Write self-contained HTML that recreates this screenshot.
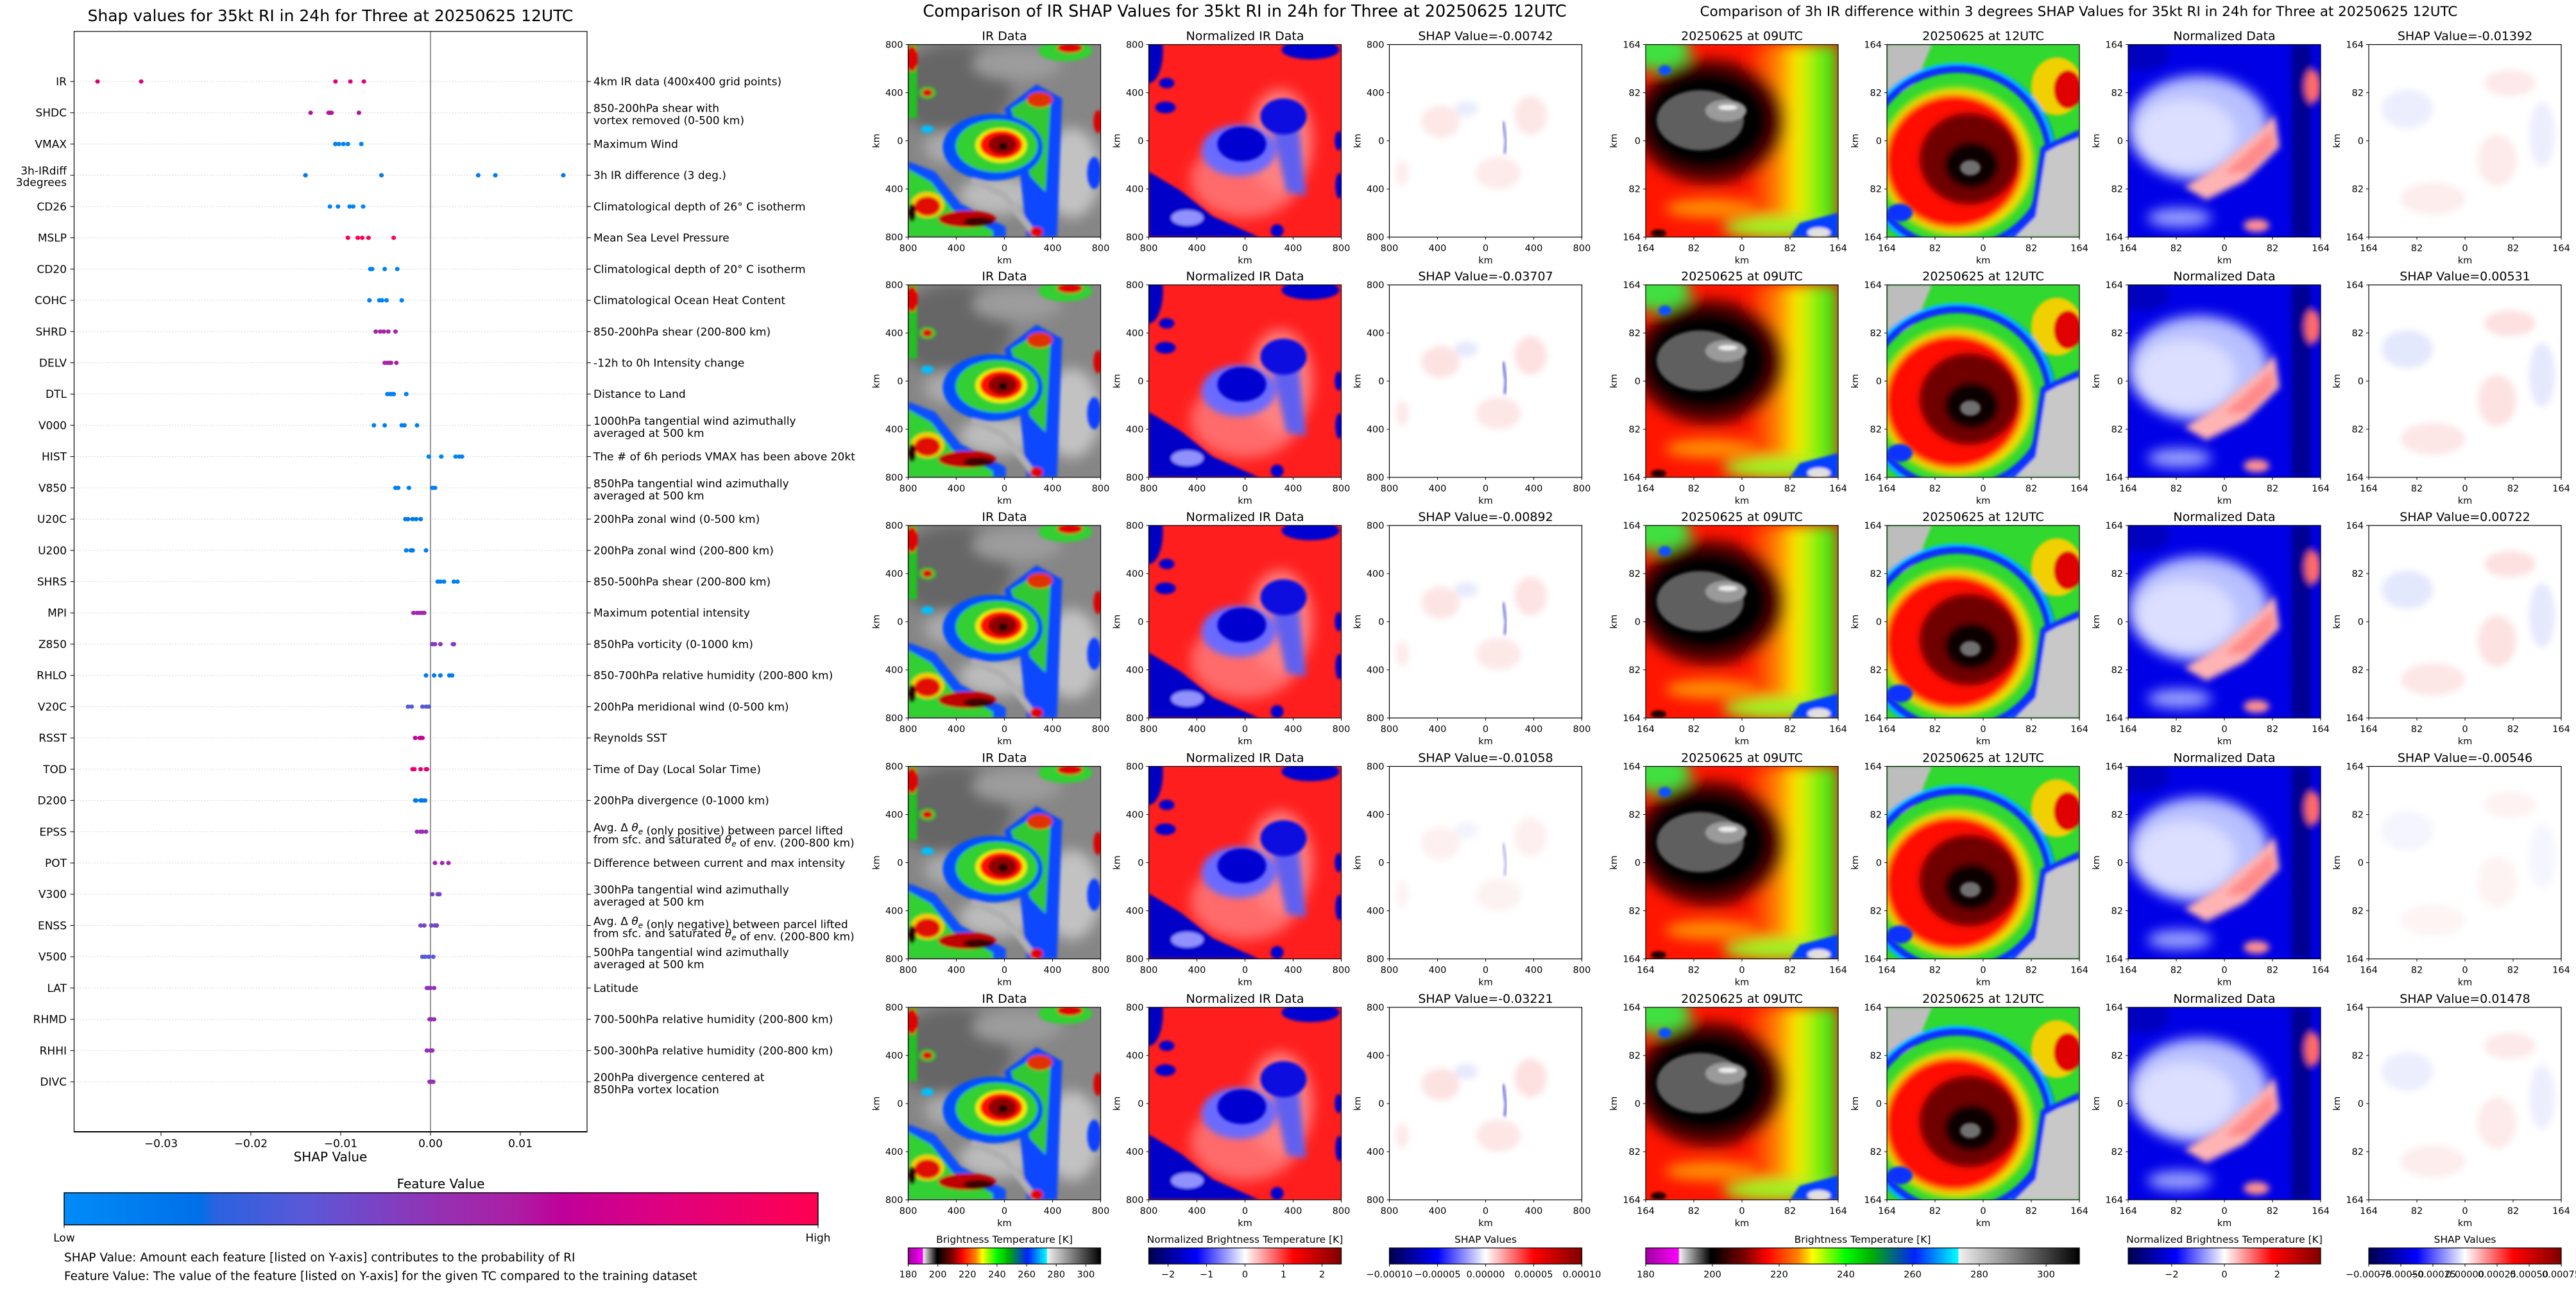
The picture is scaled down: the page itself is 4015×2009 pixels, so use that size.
<!DOCTYPE html>
<html><head><meta charset="utf-8"><title>SHAP values RI</title>
<style>
html,body{margin:0;padding:0;background:#fff;}
svg{display:block;font-family:"DejaVu Sans","Liberation Sans",sans-serif;}
</style></head>
<body>
<svg id="root" xmlns="http://www.w3.org/2000/svg" width="4015" height="2009" viewBox="0 0 4015 2009">
<defs>
<filter id="b2" x="-20%" y="-20%" width="140%" height="140%"><feGaussianBlur stdDeviation="2"/></filter>
<filter id="b5" x="-30%" y="-30%" width="160%" height="160%"><feGaussianBlur stdDeviation="5"/></filter>
<filter id="b10" x="-40%" y="-40%" width="180%" height="180%"><feGaussianBlur stdDeviation="10"/></filter>
<linearGradient id="g-fv" x1="0" x2="1" y1="0" y2="0">
<stop offset="0" stop-color="#008cf8"/><stop offset="0.18" stop-color="#0070e8"/><stop offset="0.2" stop-color="#2a62e0"/><stop offset="0.32" stop-color="#5a58d8"/><stop offset="0.5" stop-color="#9630b2"/><stop offset="0.6" stop-color="#ac1ea4"/><stop offset="0.66" stop-color="#c0009a"/><stop offset="0.8" stop-color="#e0007e"/><stop offset="1" stop-color="#ff0050"/>
</linearGradient>
<linearGradient id="g-ir" x1="0" x2="1" y1="0" y2="0">
<stop offset="0" stop-color="#a000a0"/><stop offset="0.076" stop-color="#ff00ff"/><stop offset="0.077" stop-color="#f4f4f4"/><stop offset="0.15" stop-color="#000"/><stop offset="0.154" stop-color="#000"/><stop offset="0.23" stop-color="#800000"/><stop offset="0.28" stop-color="#ff0000"/><stop offset="0.35" stop-color="#ff8000"/><stop offset="0.385" stop-color="#ffff00"/><stop offset="0.46" stop-color="#00ff00"/><stop offset="0.52" stop-color="#00b000"/><stop offset="0.62" stop-color="#0020ff"/><stop offset="0.72" stop-color="#00ffff"/><stop offset="0.722" stop-color="#f0f0f0"/><stop offset="1" stop-color="#000"/>
</linearGradient>
<linearGradient id="g-seis" x1="0" x2="1" y1="0" y2="0">
<stop offset="0" stop-color="#00004c"/><stop offset="0.25" stop-color="#0000ff"/><stop offset="0.5" stop-color="#ffffff"/><stop offset="0.75" stop-color="#ff0000"/><stop offset="1" stop-color="#800000"/>
</linearGradient>
<linearGradient id="g-09r" x1="0" x2="1" y1="0" y2="0">
<stop offset="0" stop-color="#ff1500"/><stop offset="0.35" stop-color="#ff8a00"/><stop offset="0.55" stop-color="#f8f000"/><stop offset="0.8" stop-color="#70ee10"/><stop offset="1" stop-color="#30d020"/>
</linearGradient>

<symbol id="art-ir" viewBox="0 0 300 300">
<rect width="300" height="300" fill="#868686"/>
<g filter="url(#b10)">
<ellipse cx="70" cy="70" rx="90" ry="70" fill="#666"/>
<ellipse cx="170" cy="30" rx="70" ry="25" fill="#9c9c9c"/>
<ellipse cx="255" cy="200" rx="45" ry="70" fill="#c2c2c2"/>
<ellipse cx="140" cy="235" rx="60" ry="30" fill="#bcbcbc"/>
<ellipse cx="60" cy="160" rx="35" ry="25" fill="#aaa"/>
</g>
<g filter="url(#b2)">
<path d="M150 100 L200 62 L240 84 L232 300 L185 300 L175 205 Z" fill="#1046ff"/>
<path d="M160 100 L200 76 L222 92 L214 230 L190 205 L176 150 Z" fill="#30c830"/>
<path d="M100 210 L150 235 L200 300" stroke="#b0b0b0" stroke-width="10" fill="none"/>
<path d="M60 150 L110 180" stroke="#b0b0b0" stroke-width="8" fill="none"/>
<ellipse cx="205" cy="86" rx="20" ry="12" fill="#e03000"/>
<ellipse cx="132" cy="160" rx="78" ry="52" fill="#0050ff"/>
<ellipse cx="138" cy="158" rx="64" ry="41" fill="#30d030"/>
<ellipse cx="145" cy="157" rx="40" ry="27" fill="#f0f000"/>
<ellipse cx="145" cy="156" rx="33" ry="22" fill="#ff1000"/>
<ellipse cx="147" cy="156" rx="22" ry="15" fill="#900000"/>
<ellipse cx="148" cy="158" rx="7" ry="6" fill="#100000"/>
<path d="M0 182 L42 198 L82 248 L152 284 L152 300 L0 300 Z" fill="#1050ff"/>
<path d="M0 194 L36 214 L70 258 L132 290 L132 300 L0 300 Z" fill="#30d030"/>
<ellipse cx="30" cy="250" rx="26" ry="20" fill="#f0d000"/>
<ellipse cx="30" cy="252" rx="20" ry="15" fill="#e01000"/>
<ellipse cx="92" cy="272" rx="45" ry="13" fill="#c00000"/>
<ellipse cx="110" cy="276" rx="24" ry="7" fill="#400000"/>
<ellipse cx="6" cy="262" rx="6" ry="14" fill="#200000"/>
<ellipse cx="245" cy="10" rx="42" ry="16" fill="#30d030"/>
<ellipse cx="252" cy="5" rx="20" ry="8" fill="#e00000"/>
<rect x="0" y="0" width="14" height="115" fill="#20c020"/>
<ellipse cx="6" cy="22" rx="9" ry="20" fill="#e00000"/>
<ellipse cx="30" cy="75" rx="14" ry="10" fill="#30c030"/><ellipse cx="30" cy="75" rx="8" ry="6" fill="#e00000"/>
<ellipse cx="30" cy="132" rx="10" ry="6" fill="#00c0ff"/>
<ellipse cx="296" cy="120" rx="7" ry="18" fill="#e00000"/>
<ellipse cx="290" cy="200" rx="11" ry="25" fill="#1040ff"/>
<ellipse cx="200" cy="292" rx="10" ry="8" fill="#e00000"/>
</g>
</symbol>

<symbol id="art-nir" viewBox="0 0 300 300">
<rect width="300" height="300" fill="#ff1e1e"/>
<g filter="url(#b10)">
<ellipse cx="150" cy="210" rx="85" ry="60" fill="#ff6a6a"/>
<ellipse cx="205" cy="150" rx="50" ry="80" fill="#ff8080"/>
</g>
<g filter="url(#b5)">
<ellipse cx="140" cy="165" rx="58" ry="40" fill="#6a6aff"/>
<path d="M185 100 L230 95 L245 235 L215 230 Z" fill="#6060f0"/>
</g>
<g filter="url(#b2)">
<ellipse cx="210" cy="112" rx="36" ry="28" fill="#1010e0"/>
<ellipse cx="145" cy="155" rx="38" ry="27" fill="#0000d0"/>
<path d="M0 198 L50 228 L100 268 L172 300 L0 300 Z" fill="#0000c8"/>
<ellipse cx="60" cy="270" rx="25" ry="12" fill="#9090ff"/>
<ellipse cx="252" cy="8" rx="45" ry="15" fill="#0000d0"/>
<ellipse cx="0" cy="10" rx="22" ry="50" fill="#0000c0"/>
<ellipse cx="28" cy="60" rx="12" ry="8" fill="#0000d0"/>
<ellipse cx="26" cy="98" rx="16" ry="9" fill="#0000d0"/>
<ellipse cx="296" cy="150" rx="6" ry="15" fill="#0000d0"/>
<ellipse cx="297" cy="220" rx="6" ry="20" fill="#0000d0"/>
<ellipse cx="200" cy="290" rx="10" ry="10" fill="#0000d0"/>
</g>
</symbol>

<symbol id="art-shapm" viewBox="0 0 300 300">
<rect width="300" height="300" fill="#fff"/>
<g filter="url(#b5)">
<ellipse cx="80" cy="120" rx="30" ry="25" fill="#fde2e2"/>
<ellipse cx="220" cy="110" rx="25" ry="30" fill="#fde0e0"/>
<ellipse cx="170" cy="200" rx="35" ry="25" fill="#fde6e6"/>
<ellipse cx="120" cy="100" rx="18" ry="12" fill="#e6e8fd"/>
<ellipse cx="20" cy="200" rx="10" ry="20" fill="#fde8e8"/>
</g>
<path d="M177 120 L182 150 L180 170" stroke="#6060e0" stroke-width="4" fill="none" filter="url(#b2)"/>
</symbol>

<symbol id="art-09" viewBox="0 0 300 300">
<rect width="300" height="300" fill="#ff1500"/>
<g filter="url(#b10)">
<rect x="160" y="0" width="140" height="300" fill="url(#g-09r)"/>
<ellipse cx="15" cy="10" rx="55" ry="30" fill="#40e040"/>
<ellipse cx="210" cy="285" rx="90" ry="18" fill="#a0f020"/>
<ellipse cx="100" cy="255" rx="70" ry="15" fill="#ff9000"/>
<ellipse cx="100" cy="120" rx="118" ry="98" fill="#600000"/>
<ellipse cx="95" cy="118" rx="100" ry="80" fill="#000"/>
</g>
<g filter="url(#b2)">
<ellipse cx="85" cy="118" rx="68" ry="47" fill="#5e5e5e"/>
<ellipse cx="125" cy="103" rx="32" ry="17" fill="#9a9a9a"/>
<ellipse cx="128" cy="98" rx="15" ry="4" fill="#eeeeee"/>
<path d="M225 300 L240 278 L300 262 L300 300 Z" fill="#0040ff"/>
<ellipse cx="270" cy="293" rx="18" ry="8" fill="#e0e0e0"/>
<ellipse cx="30" cy="40" rx="10" ry="8" fill="#1050ff"/>
<ellipse cx="20" cy="294" rx="12" ry="6" fill="#200000"/>
</g>
</symbol>

<symbol id="art-12" viewBox="0 0 300 300">
<rect width="300" height="300" fill="#30d830"/>
<g filter="url(#b2)">
<path d="M0 0 L70 0 L45 60 L0 90 Z" fill="#bdbdbd"/>
<ellipse cx="265" cy="65" rx="40" ry="45" fill="#f0d000"/>
<ellipse cx="282" cy="70" rx="22" ry="30" fill="#e00000"/>
<ellipse cx="110" cy="178" rx="146" ry="142" fill="none" stroke="#1030ff" stroke-width="16"/>
<ellipse cx="110" cy="178" rx="150" ry="148" fill="none" stroke="#00c8ff" stroke-width="4"/>
</g>
<g filter="url(#b5)">
<ellipse cx="108" cy="182" rx="120" ry="115" fill="#f0e000"/>
<ellipse cx="105" cy="182" rx="108" ry="104" fill="#ff1000"/>
<ellipse cx="128" cy="178" rx="78" ry="72" fill="#700000"/>
<ellipse cx="132" cy="188" rx="42" ry="36" fill="#100000"/>
</g>
<g filter="url(#b2)">
<ellipse cx="130" cy="192" rx="16" ry="12" fill="#707070"/>
<path d="M240 160 L262 150 L300 132 L300 300 L190 300 L225 262 Z" fill="#1030ff"/>
<path d="M248 168 L266 158 L300 145 L300 300 L200 300 L232 268 Z" fill="#c8c8c8"/>
<ellipse cx="20" cy="262" rx="20" ry="14" fill="#1030ff"/>
</g>
</symbol>

<symbol id="art-norm" viewBox="0 0 300 300">
<rect width="300" height="300" fill="#0000e6"/>
<g filter="url(#b10)">
<ellipse cx="110" cy="130" rx="110" ry="82" fill="#b8c0ff"/>
<ellipse cx="90" cy="140" rx="78" ry="55" fill="#dcdfff"/>
<ellipse cx="80" cy="270" rx="50" ry="15" fill="#9aa0ff"/>
</g>
<g filter="url(#b5)">
<path d="M88 222 L140 190 L200 140 L228 110 L236 160 L182 212 L122 242 Z" fill="#ffb4b4"/>
<path d="M150 200 L205 150 L225 130 L228 160 L185 200 Z" fill="#ff8a8a"/>
<rect x="255" y="0" width="30" height="300" fill="#000090"/>
<ellipse cx="288" cy="65" rx="12" ry="26" fill="#ff6a6a"/>
<ellipse cx="200" cy="282" rx="20" ry="10" fill="#ff9090"/>
<ellipse cx="20" cy="15" rx="45" ry="25" fill="#0000c0"/>
</g>
</symbol>

<symbol id="art-shapr" viewBox="0 0 300 300">
<rect width="300" height="300" fill="#fff"/>
<g filter="url(#b5)">
<ellipse cx="60" cy="100" rx="40" ry="30" fill="#e4e8fd"/>
<ellipse cx="220" cy="60" rx="40" ry="20" fill="#fde0e0"/>
<ellipse cx="200" cy="180" rx="30" ry="40" fill="#fde2e2"/>
<ellipse cx="100" cy="240" rx="50" ry="25" fill="#fde6e6"/>
<ellipse cx="270" cy="140" rx="20" ry="50" fill="#e6e8fd"/>
</g>
</symbol>
</defs>
<g id="layer"></g>
</svg>

<script>
// ---------- data ----------
const features = ["IR","SHDC","VMAX","3h-IRdiff\n3degrees","CD26","MSLP","CD20","COHC","SHRD","DELV","DTL","V000","HIST","V850","U20C","U200","SHRS","MPI","Z850","RHLO","V20C","RSST","TOD","D200","EPSS","POT","V300","ENSS","V500","LAT","RHMD","RHHI","DIVC"];
const descriptions = ["4km IR data (400x400 grid points)","850-200hPa shear with\nvortex removed (0-500 km)","Maximum Wind","3h IR difference (3 deg.)","Climatological depth of 26° C isotherm","Mean Sea Level Pressure","Climatological depth of 20° C isotherm","Climatological Ocean Heat Content","850-200hPa shear (200-800 km)","-12h to 0h Intensity change","Distance to Land","1000hPa tangential wind azimuthally\naveraged at 500 km","The # of 6h periods VMAX has been above 20kt","850hPa tangential wind azimuthally\naveraged at 500 km","200hPa zonal wind (0-500 km)","200hPa zonal wind (200-800 km)","850-500hPa shear (200-800 km)","Maximum potential intensity","850hPa vorticity (0-1000 km)","850-700hPa relative humidity (200-800 km)","200hPa meridional wind (0-500 km)","Reynolds SST","Time of Day (Local Solar Time)","200hPa divergence (0-1000 km)","Avg. Δ θe (only positive) between parcel lifted\nfrom sfc. and saturated θe of env. (200-800 km)","Difference between current and max intensity","300hPa tangential wind azimuthally\naveraged at 500 km","Avg. Δ θe (only negative) between parcel lifted\nfrom sfc. and saturated θe of env. (200-800 km)","500hPa tangential wind azimuthally\naveraged at 500 km","Latitude","700-500hPa relative humidity (200-800 km)","500-300hPa relative humidity (200-800 km)","200hPa divergence centered at\n850hPa vortex location"];
const featureValues = [0.8,0.62,0.05,0.1,0.05,0.98,0.05,0.05,0.56,0.58,0.08,0.08,0.05,0.08,0.12,0.1,0.08,0.55,0.45,0.1,0.3,0.68,0.86,0.12,0.5,0.56,0.4,0.4,0.3,0.48,0.5,0.5,0.5];
const irShap = [-0.00742,-0.03707,-0.00892,-0.01058,-0.03221];
const diffShap = [-0.01392,0.00531,0.00722,-0.00546,0.01478];
const shapValues = [
 irShap,
 [-0.01335,-0.01134,-0.01116,-0.01102,-0.00797],
 [-0.0106,-0.0102,-0.0097,-0.0092,-0.0077],
 diffShap,
 [-0.0112,-0.0103,-0.0090,-0.0086,-0.0075],
 [-0.0092,-0.0081,-0.0076,-0.0069,-0.0041],
 [-0.0067,-0.0066,-0.0065,-0.0051,-0.0037],
 [-0.0068,-0.0057,-0.0054,-0.0049,-0.0032],
 [-0.0061,-0.0056,-0.0052,-0.0047,-0.0039],
 [-0.0051,-0.0048,-0.0046,-0.0044,-0.0038],
 [-0.0048,-0.0045,-0.0043,-0.0041,-0.0027],
 [-0.0063,-0.0051,-0.0032,-0.0029,-0.0015],
 [-0.0002,0.0012,0.0028,0.0032,0.0035],
 [-0.0039,-0.0036,-0.0024,0.0002,0.0005],
 [-0.0028,-0.0025,-0.0020,-0.0016,-0.0011],
 [-0.0027,-0.0022,-0.0020,-0.0020,-0.0005],
 [0.0008,0.0011,0.0015,0.0026,0.0030],
 [-0.0019,-0.0015,-0.0012,-0.0009,-0.0007],
 [0.0002,0.0005,0.0011,0.0025,0.0026],
 [-0.0005,0.0004,0.0011,0.0021,0.0024],
 [-0.0025,-0.0021,-0.0009,-0.0005,-0.0002],
 [-0.0017,-0.0012,-0.0011,-0.0010,-0.0009],
 [-0.0020,-0.0018,-0.0011,-0.0005,-0.0004],
 [-0.0017,-0.0016,-0.0011,-0.0009,-0.0006],
 [-0.0015,-0.0011,-0.0010,-0.0009,-0.0005],
 [0.0005,0.0013,0.0020],
 [0.0002,0.0008,0.0010],
 [-0.0011,-0.0007,0.0001,0.0005,0.0007],
 [-0.0009,-0.0006,-0.0002,0.0003],
 [-0.0004,-0.0002,0.0000,0.0004],
 [-0.0001,0.0001,0.0004],
 [-0.0004,0.0000,0.0002],
 [-0.0001,0.0001,0.0003]
];
const xTicks = [-0.03,-0.02,-0.01,0.00,0.01];
const xTickLabels = ["−0.03","−0.02","−0.01","0.00","0.01"];
const midTitles = ["IR Data","Normalized IR Data"];
const rightTitles = ["20250625 at 09UTC","20250625 at 12UTC","Normalized Data"];
const midTickLabels = ["800","400","0","400","800"];
const rightTickLabels = ["164","82","0","82","164"];
const cbIrTicks = [180,200,220,240,260,280,300];
const cbNormMidTicks = [-2,-1,0,1,2];
const cbShapMidTicks = ["−0.00010","−0.00005","0.00000","0.00005","0.00010"];
const cbNormRightTicks = [-2,0,2];
const cbShapRightTicks = ["−0.00075","−0.00050","−0.00025","0.00000","0.00025","0.00050","0.00075"];

// ---------- helpers ----------
const NS = "http://www.w3.org/2000/svg";
const layer = document.getElementById("layer");
function mk(tag, attrs, parent) {
  const e = document.createElementNS(NS, tag);
  for (const k in attrs) e.setAttribute(k, attrs[k]);
  (parent || layer).appendChild(e);
  return e;
}
function tx(x, y, s, size, anchor, parent) {
  const e = mk("text", {x: x, y: y, "font-size": size, "text-anchor": anchor || "start", fill: "#000"}, parent);
  e.textContent = s;
  return e;
}
const fvStops = [[0,[0,140,248]],[0.18,[0,112,232]],[0.2,[42,98,224]],[0.32,[90,88,216]],[0.5,[150,48,178]],[0.6,[172,30,164]],[0.66,[192,0,154]],[0.8,[224,0,126]],[1,[255,0,80]]];
function fvColor(v) {
  for (let i = 1; i < fvStops.length; i++) {
    if (v <= fvStops[i][0]) {
      const a = fvStops[i-1], b = fvStops[i], t = (v - a[0]) / (b[0] - a[0]);
      const c = a[1].map((q, j) => Math.round(q + (b[1][j] - q) * t));
      return "rgb(" + c.join(",") + ")";
    }
  }
  return "rgb(255,0,80)";
}

// ---------- left beeswarm ----------
const AX = {l: 115.5, r: 915, t: 49, b: 1764};
const X0 = 671, XS = 14000;
function xScale(v) { return X0 + v * XS; }
function yRow(i) { return 127 + i * 48.72; }

const ltitle = tx(515, 33, "Shap values for 35kt RI in 24h for Three at 20250625 12UTC", 25, "middle");



features.forEach((f, i) => {
  const y = yRow(i);
  const g = mk("line", {x1: AX.l, x2: AX.r, y1: y, y2: y, stroke: "#c8c8c8", "stroke-width": 1, "stroke-dasharray": "1.5,3"});
  
  
  const tl = mk("line", {x1: AX.l - 6, x2: AX.l, y1: y, y2: y, stroke: "#000", "stroke-width": 1});
  
  
  const tr = mk("line", {x1: AX.r, x2: AX.r + 6, y1: y, y2: y, stroke: "#000", "stroke-width": 1});
  
  
  const fl = f.split("\n");
  fl.forEach((s, k) => {
    const yy = fl.length === 1 ? y + 6 : y - 1 + k * 18;
    const t = tx(104, yy, s, 17, "end");
    
    
  });
  const dl = descriptions[i].split("\n");
  dl.forEach((s, k) => {
    const yy = dl.length === 1 ? y + 6 : y - 1 + k * 19;
    const t = mk("text", {x: 925, y: yy, "font-size": 17, fill: "#000"});
    const parts = s.split("θe");
    parts.forEach((p, pi) => {
      const sp = mk("tspan", {}, t);
      sp.textContent = p;
      if (pi < parts.length - 1) {
        const th = mk("tspan", {"font-style": "italic"}, t);
        th.textContent = "θ";
        const sub = mk("tspan", {"font-size": 12, dy: 5, "font-style": "italic"}, t);
        sub.textContent = "e";
        const back = mk("tspan", {dy: -5}, t);
        back.textContent = "";
      }
    });
    
    
  });
});

const zl = mk("line", {x1: xScale(0), x2: xScale(0), y1: AX.t, y2: AX.b, stroke: "#999", "stroke-width": 2});



shapValues.forEach((arr, i) => {
  arr.forEach(v => {
    const c = mk("ellipse", {cx: xScale(v), cy: yRow(i), rx: 3.6, ry: 3.4, fill: fvColor(featureValues[i])});
    
    
  });
});

const box = mk("rect", {x: AX.l, y: AX.t, width: AX.r - AX.l, height: AX.b - AX.t, fill: "none", stroke: "#000", "stroke-width": 1.2});


const bsp = mk("line", {x1: AX.l, x2: AX.r, y1: AX.b, y2: AX.b, stroke: "#000", "stroke-width": 2});



xTicks.forEach((v, i) => {
  const t = mk("line", {x1: xScale(v), x2: xScale(v), y1: AX.b, y2: AX.b + 6, stroke: "#000"});
  
  
  const l = tx(xScale(v), AX.b + 24, xTickLabels[i], 17, "middle");
  
  
});
const xt = tx(515, 1810, "SHAP Value", 20, "middle");



const fvt = tx(687, 1852, "Feature Value", 20, "middle");


const fvb = mk("rect", {x: 100, y: 1859, width: 1175, height: 50, fill: "url(#g-fv)", stroke: "#000", "stroke-width": 1.5});


[100, 1275].forEach(x => {
  const t = mk("line", {x1: x, x2: x, y1: 1909, y2: 1914, stroke: "#000"});
  
  
});
const lo = tx(100, 1935, "Low", 17, "middle");


const hi = tx(1275, 1935, "High", 17, "middle");


const n1 = tx(100, 1966, "SHAP Value: Amount each feature [listed on Y-axis] contributes to the probability of RI", 18.5, "start");


const n2 = tx(100, 1995, "Feature Value: The value of the feature [listed on Y-axis] for the given TC compared to the training dataset", 18.5, "start");



// ---------- image panels ----------
const rowTops = [69.5, 444, 819, 1194.5, 1570];
const midCols = [1415.5, 1790.5, 2165.5];
const rightCols = [2565, 2941, 3317, 3692];
const PW = 300;

function panel(x, y, art, title, ticks, op) {
  const u = mk("use", {href: "#" + art, x: x, y: y, width: PW, height: PW, opacity: op});
  
  
  const fr = mk("rect", {x: x, y: y, width: PW, height: PW, fill: "none", stroke: "#000", "stroke-width": 1.2});
  
  
  const tt = tx(x + PW / 2, y - 7, title, 19, "middle");
  
  
  ticks.forEach((lab, k) => {
    const p = k * PW / 4;
    const a = mk("line", {x1: x + p, x2: x + p, y1: y + PW, y2: y + PW + 4, stroke: "#000"});
    
    
    const b = tx(x + p, y + PW + 22, lab, 14.5, "middle");
    
    
    const c = mk("line", {x1: x - 4, x2: x, y1: y + p, y2: y + p, stroke: "#000"});
    
    
    const d = tx(x - 8, y + p + 5, lab, 14.5, "end");
    
    
  });
  const xl = tx(x + PW / 2, y + PW + 41, "km", 14.5, "middle");
  
  
  const yl = tx(0, 0, "km", 14.5, "middle");
  yl.setAttribute("transform", "translate(" + (x - 45) + "," + (y + PW / 2) + ") rotate(-90)");
  
  
}

const shapOpMid = [0.8, 1, 0.9, 0.5, 1];
const shapOpRight = [0.7, 1, 1, 0.4, 0.7];
rowTops.forEach((y, r) => {
  panel(midCols[0], y, "art-ir", midTitles[0], midTickLabels, 1);
  panel(midCols[1], y, "art-nir", midTitles[1], midTickLabels, 1);
  panel(midCols[2], y, "art-shapm", "SHAP Value=" + irShap[r].toFixed(5), midTickLabels, shapOpMid[r]);
  panel(rightCols[0], y, "art-09", rightTitles[0], rightTickLabels, 1);
  panel(rightCols[1], y, "art-12", rightTitles[1], rightTickLabels, 1);
  panel(rightCols[2], y, "art-norm", rightTitles[2], rightTickLabels, 1);
  panel(rightCols[3], y, "art-shapr", "SHAP Value=" + diffShap[r].toFixed(5), rightTickLabels, shapOpRight[r]);
});

const mt = tx(1940, 26, "Comparison of IR SHAP Values for 35kt RI in 24h for Three at 20250625 12UTC", 25.5, "middle");


const rt = tx(3240, 25, "Comparison of 3h IR difference within 3 degrees SHAP Values for 35kt RI in 24h for Three at 20250625 12UTC", 21.5, "middle");



// ---------- colorbars ----------
const CBY = 1945, CBH = 25;
function colorbar(x, w, grad, title, labels, fracs, name) {
  const t = tx(x + w / 2, 1937, title, 15.5, "middle");
  
  
  const r = mk("rect", {x: x, y: CBY, width: w, height: CBH, fill: "url(#" + grad + ")", stroke: "#000", "stroke-width": 1.2});
  
  
  labels.forEach((lab, k) => {
    const px = x + fracs[k] * w;
    const a = mk("line", {x1: px, x2: px, y1: CBY + CBH, y2: CBY + CBH + 4, stroke: "#000"});
    
    
    const b = tx(px, CBY + CBH + 21, lab, 14.5, "middle");
    
    
  });
}
function frac(vals, lo, hi) { return vals.map(v => (v - lo) / (hi - lo)); }
colorbar(1415.5, 300, "g-ir", "Brightness Temperature [K]", cbIrTicks.map(String), frac(cbIrTicks, 180, 310), "ir-colorbar");
colorbar(1790.5, 300, "g-seis", "Normalized Brightness Temperature [K]", cbNormMidTicks.map(v => v < 0 ? "−" + (-v) : String(v)), frac(cbNormMidTicks, -2.5, 2.5), "normalized-colorbar");
colorbar(2165.5, 300, "g-seis", "SHAP Values", cbShapMidTicks, cbShapMidTicks.map((v, k) => k / 4), "shap-colorbar");
colorbar(2565, 676, "g-ir", "Brightness Temperature [K]", cbIrTicks.map(String), frac(cbIrTicks, 180, 310), "irdiff-bt-colorbar");
colorbar(3317, 300, "g-seis", "Normalized Brightness Temperature [K]", cbNormRightTicks.map(v => v < 0 ? "−" + (-v) : String(v)), frac(cbNormRightTicks, -3.65, 3.65), "irdiff-normalized-colorbar");
colorbar(3692, 300, "g-seis", "SHAP Values", cbShapRightTicks, cbShapRightTicks.map((v, k) => k / 6), "irdiff-shap-colorbar");
</script>
</body></html>
